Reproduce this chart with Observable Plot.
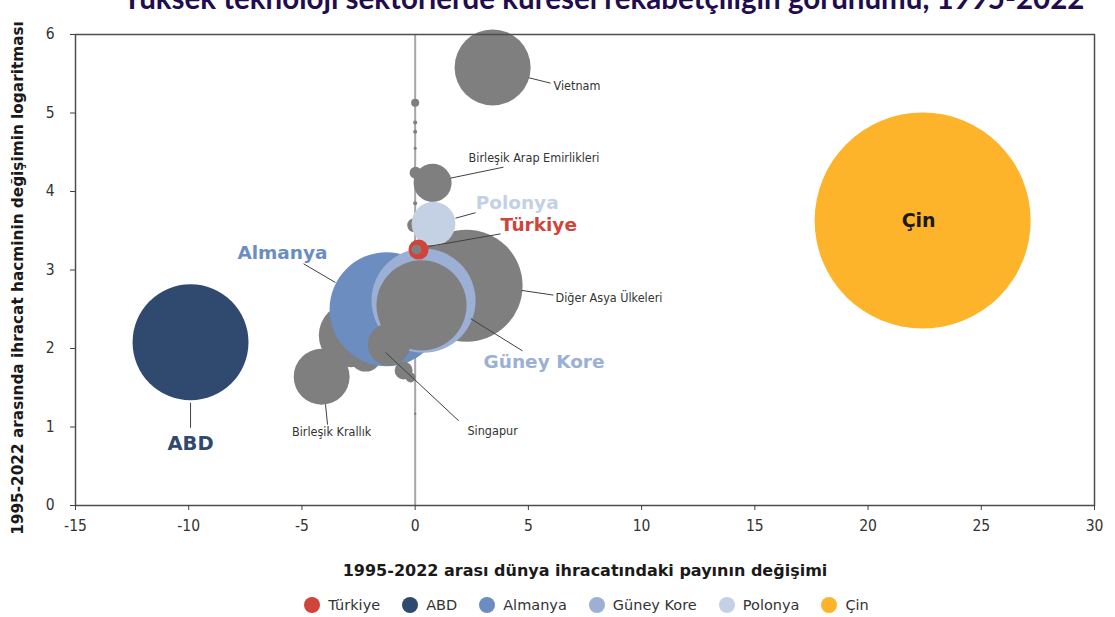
<!DOCTYPE html>
<html>
<head>
<meta charset="utf-8">
<script src="https://cdn.jsdelivr.net/npm/d3@7"></script>
<script src="https://cdn.jsdelivr.net/npm/@observablehq/plot@0.6"></script>
<style>
  html, body { margin: 0; padding: 0; background: #fff; }
  body { width: 1115px; height: 617px; overflow: hidden; position: relative; font-family: "DejaVu Sans", sans-serif; }
  #title { position: absolute; left: 46px; width: 1115px; top: -17px; text-align: center; font-family: Lato, "Open Sans", sans-serif; font-weight: 700; font-size: 29.5px; line-height: 29.5px; color: #1f0d4d; white-space: nowrap; }
  #chart { position: absolute; left: 0; top: 0; }
  #legend { position: absolute; left: 0; top: 597px; width: 1115px; display: flex; justify-content: center; align-items: center; gap: 22px; font-family: "DejaVu Sans", sans-serif; font-size: 14.5px; color: #333; padding-left: 58px; box-sizing: border-box; }
  #legend .item { display: flex; align-items: center; gap: 8px; }
  #legend .dot { width: 16px; height: 16px; border-radius: 50%; display: inline-block; }
</style>
</head>
<body>
<div id="title"></div>
<div id="chart"></div>
<div id="legend"></div>
<script>
// ---------- DATA ----------
const titleText = "Yüksek teknoloji sektörlerde küresel rekabetçiliğin görünümü, 1995-2022";
const xLabel = "1995-2022 arası dünya ihracatındaki payının değişimi";
const yLabel = "1995-2022 arasında ihracat hacminin değişimin logaritması";
const xTicks = [-15, -10, -5, 0, 5, 10, 15, 20, 25, 30];
const yTicks = [0, 1, 2, 3, 4, 5, 6];

// bubbles (in drawing order)
const names = [
  "Diğer Asya Ülkeleri", "Diğer 1", "Diğer 2", "Birleşik Krallık",
  "Almanya", "Güney Kore", "Diğer 3", "Singapur", "Diğer 4", "Diğer 5",
  "Vietnam", "Birleşik Arap Emirlikleri", "Diğer 6", "Diğer 7",
  "Diğer 8", "Diğer 9", "Diğer 10", "Diğer 11", "Diğer 12", "Diğer 13",
  "Polonya", "Türkiye", "Diğer 14", "ABD", "Çin"
];
const shareChange = [
  2.27, -2.84, -2.19, -4.13,
  -1.26, 0.37, 0.28, -1.16, -0.51, -0.20,
  3.42, 0.77, 0.02, -0.04,
  0.0, 0.0, 0.0, 0.0, 0.0, 0.0,
  0.81, 0.15, 0.06, -9.92, 22.41
];
const volumeLog = [
  2.80, 2.17, 1.91, 1.64,
  2.50, 2.61, 2.55, 2.05, 1.72, 1.63,
  5.58, 4.11, 4.24, 3.57,
  5.13, 4.88, 4.76, 4.55, 3.85, 1.17,
  3.59, 3.26, 3.26, 2.08, 3.63
];
const tradeSize = [
  26.9, 8.8, 2.2, 6.7,
  27.9, 23.2, 17.4, 3.8, 0.69, 0.21,
  12.4, 3.1, 0.31, 0.42,
  0.14, 0.034, 0.034, 0.02, 0.034, 0.012,
  4.1, 0.86, 0.21, 28.8, 100
];
const groups = [
  "Diğer", "Diğer", "Diğer", "Diğer",
  "Almanya", "Güney Kore", "Diğer", "Diğer", "Diğer", "Diğer",
  "Diğer", "Diğer", "Diğer", "Diğer",
  "Diğer", "Diğer", "Diğer", "Diğer", "Diğer", "Diğer",
  "Polonya", "Türkiye", "Diğer", "ABD", "Çin"
];
const legendNames = ["Türkiye", "ABD", "Almanya", "Güney Kore", "Polonya", "Çin"];
const legendColors = ["#d0443a", "#2f4a6e", "#6b8dbf", "#9bb0d4", "#c4d0e4", "#fdb32a"];
const otherColor = "#7f7f7f";

// ---------- ANNOTATION LAYOUT (data units) ----------
const annotations = [
  {text: "Vietnam", tx: 6.11, ty: 5.34, anchor: "start", x1: 5.01, y1: 5.45, x2: 5.98, y2: 5.38, fill: "#333", size: 12.5, weight: "normal"},
  {text: "Birleşik Arap Emirlikleri", tx: 2.36, ty: 4.43, anchor: "start", x1: 1.56, y1: 4.17, x2: 3.90, y2: 4.31, fill: "#333", size: 12.5, weight: "normal"},
  {text: "Polonya", tx: 2.67, ty: 3.85, anchor: "start", x1: 1.78, y1: 3.66, x2: 2.67, y2: 3.73, fill: "#c4d0e4", size: 18.5, weight: "bold"},
  {text: "Türkiye", tx: 3.77, ty: 3.57, anchor: "start", x1: 0.59, y1: 3.30, x2: 3.77, y2: 3.46, fill: "#d0443a", size: 18.5, weight: "bold"},
  {text: "Almanya", tx: -3.87, ty: 3.22, anchor: "end", x1: -4.93, y1: 3.08, x2: -3.52, y2: 2.84, fill: "#6b8dbf", size: 18.5, weight: "bold"},
  {text: "Diğer Asya Ülkeleri", tx: 6.20, ty: 2.64, anchor: "start", x1: 4.70, y1: 2.74, x2: 6.11, y2: 2.68, fill: "#333", size: 12.5, weight: "normal"},
  {text: "Güney Kore", tx: 3.02, ty: 1.83, anchor: "start", x1: 2.45, y1: 2.38, x2: 4.74, y2: 1.97, fill: "#9bb0d4", size: 18.5, weight: "bold"},
  {text: "Singapur", tx: 2.31, ty: 0.955, anchor: "start", x1: -1.31, y1: 1.95, x2: 1.92, y2: 1.08, fill: "#333", size: 12.5, weight: "normal"},
  {text: "Birleşik Krallık", tx: -3.69, ty: 0.93, anchor: "middle", x1: -3.96, y1: 1.29, x2: -3.87, y2: 1.03, fill: "#333", size: 12.5, weight: "normal"},
  {text: "ABD", tx: -9.92, ty: 0.79, anchor: "middle", x1: -9.92, y1: 1.31, x2: -9.92, y2: 0.99, fill: "#2f4a6e", size: 19.5, weight: "bold"}
];

// ---------- BUILD ----------
const bubbles = names.map((n, i) => ({name: n, x: shareChange[i], y: volumeLog[i], size: tradeSize[i], group: groups[i]}));
const cin = bubbles.filter(d => d.name === "Çin");

document.getElementById("title").textContent = titleText;

const tickFont = "DejaVu Sans Condensed, Liberation Sans Narrow, DejaVu Sans, sans-serif";
const chart = Plot.plot({
  width: 1115,
  height: 585,
  marginLeft: 75,
  marginRight: 21,
  marginTop: 34,
  marginBottom: 80,
  style: {fontFamily: "DejaVu Sans, sans-serif", fontSize: "14px", color: "#333", background: "transparent", overflow: "visible"},
  x: {domain: [-15, 30]},
  y: {domain: [0, 6]},
  r: {type: "sqrt", domain: [0, 100], range: [0, 108]},
  color: {domain: [...legendNames, "Diğer"], range: [...legendColors, otherColor]},
  marks: [
    Plot.ruleX([0], {stroke: "#a6a6a6", strokeWidth: 2}),
    Plot.dot(bubbles, {x: "x", y: "y", r: "size", fill: "group", fillOpacity: 1, stroke: null, sort: null}),
    Plot.link(annotations, {x1: "x1", y1: "y1", x2: "x2", y2: "y2", stroke: "#404040", strokeWidth: 1}),
    ...annotations.map(a => Plot.text([a], {x: "tx", y: "ty", text: "text", textAnchor: a.anchor, lineAnchor: "middle", fill: a.fill, fontSize: a.size, fontWeight: a.weight, fontFamily: a.weight === "bold" ? "DejaVu Sans, sans-serif" : tickFont})),
    Plot.text(cin, {x: "x", y: "y", text: "name", dx: -4, fill: "#1a1a1a", fontSize: 19, fontWeight: "bold", lineAnchor: "middle"}),
    Plot.frame({stroke: "#4d4d4d", strokeWidth: 1.5}),
    Plot.axisX({ticks: xTicks, tickSize: 5, tickPadding: 9, tickFormat: d => String(d), label: null, fontSize: 15.5, fontFamily: tickFont, stroke: "#404040"}),
    Plot.axisY({ticks: yTicks, tickSize: 5, tickPadding: 16, tickFormat: d => String(d), label: null, fontSize: 15.5, fontFamily: tickFont, stroke: "#404040"}),
    Plot.text([xLabel], {frameAnchor: "bottom", dy: 65, textAnchor: "middle", lineAnchor: "middle", fontWeight: "bold", fontSize: 16, fill: "#1a1a1a"}),
    Plot.text([yLabel], {frameAnchor: "left", dx: -57, dy: 8, rotate: -90, textAnchor: "middle", lineAnchor: "middle", fontWeight: "bold", fontSize: 15.3, fill: "#1a1a1a"})
  ]
});
document.getElementById("chart").appendChild(chart);

// legend
const legend = document.getElementById("legend");
legendNames.forEach((n, i) => {
  const item = document.createElement("span");
  item.className = "item";
  const dot = document.createElement("span");
  dot.className = "dot";
  dot.style.background = legendColors[i];
  const label = document.createElement("span");
  label.textContent = n;
  item.appendChild(dot);
  item.appendChild(label);
  legend.appendChild(item);
});
</script>
</body>
</html>
